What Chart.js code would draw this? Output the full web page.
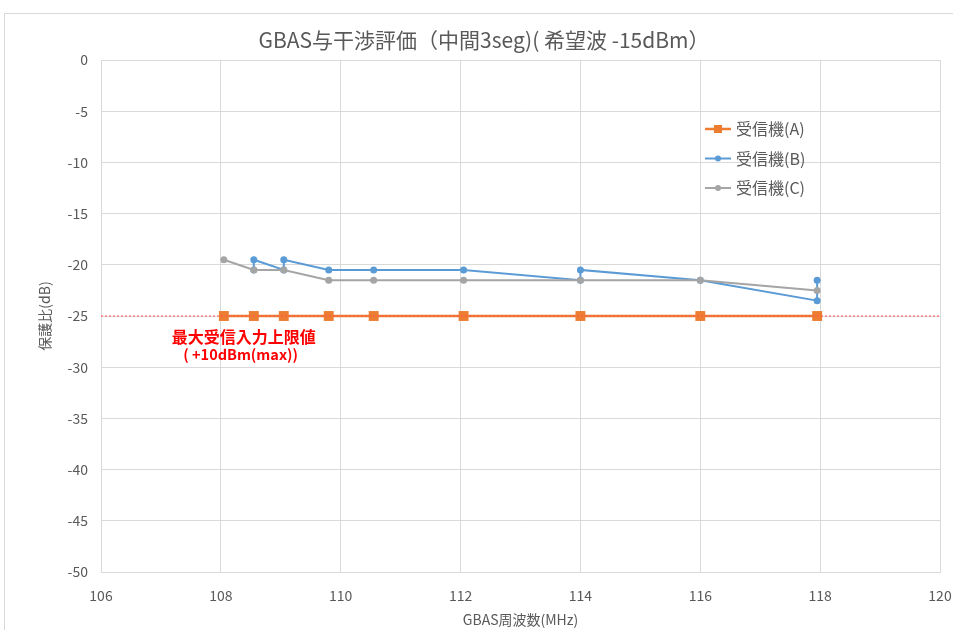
<!DOCTYPE html>
<html><head><meta charset="utf-8">
<script src="https://cdn.jsdelivr.net/npm/chart.js@4/dist/chart.umd.min.js"></script>
<style>html,body{margin:0;padding:0;background:#fff;} #wrap{width:953px;height:630px;position:relative}</style>
</head><body><div id="wrap"><canvas id="c" width="953" height="630"></canvas></div>
<script>
const chartTitle = 'GBAS与干渉評価（中間3seg)( 希望波 -15dBm）';
const xTitle = 'GBAS周波数(MHz)';
const yTitle = '保護比(dB)';
const seriesNames = ['受信機(A)', '受信機(B)', '受信機(C)'];

const freqA  = [108.05, 108.55, 109.05, 109.8, 110.55, 112.05, 114, 116, 117.95];
const ratioA = [-25, -25, -25, -25, -25, -25, -25, -25, -25];

const freqB  = [108.55, 108.55, 109.05, 109.05, 109.8, 110.55, 112.05, 114, 114, 116, 117.95, 117.95];
const ratioB = [-20.5, -19.5, -20.5, -19.5, -20.5, -20.5, -20.5, -21.5, -20.5, -21.5, -23.5, -21.5];

const freqC  = [108.05, 108.55, 109.05, 109.8, 110.55, 112.05, 114, 116, 117.95];
const ratioC = [-19.5, -20.5, -20.5, -21.5, -21.5, -21.5, -21.5, -21.5, -22.5];

const limitFreq  = [106, 120];
const limitRatio = [-25, -25];
const limitText  = ['最大受信入力上限値', '( +10dBm(max))'];
const limitTextAt = [108.38, -27.0];

const xTicks = [106, 108, 110, 112, 114, 116, 118, 120];
const yTicks = [0, -5, -10, -15, -20, -25, -30, -35, -40, -45, -50];

const colA = '#ED7D31', colB = '#5B9BD5', colC = '#A5A5A5';
const FONT = '"Noto Sans CJK JP", "Noto Sans", sans-serif';
const toPts = (xs, ys) => xs.map((x, i) => ({x: x, y: ys[i]}));

const decor = {
  id: 'decor',
  beforeDraw(chart) {
    const ctx = chart.ctx;
    ctx.save();
    ctx.fillStyle = '#fff';
    ctx.fillRect(0, 0, chart.width, chart.height);
    ctx.strokeStyle = '#d9d9d9';
    ctx.lineWidth = 1;
    ctx.strokeRect(4.5, 13.5, chart.width + 10, chart.height + 10);
    ctx.fillStyle = '#595959';
    ctx.font = '21px ' + FONT;
    ctx.textAlign = 'center';
    ctx.textBaseline = 'middle';
    ctx.fillText(chartTitle, 484, 40);
    ctx.restore();
  },
  afterDraw(chart) {
    const ctx = chart.ctx;
    const xs = chart.scales.x, ys = chart.scales.y;
    ctx.save();
    // annotation
    ctx.fillStyle = '#FF0000';
    ctx.textAlign = 'center';
    ctx.textBaseline = 'middle';
    const ax = xs.getPixelForValue(limitTextAt[0]);
    const ay = ys.getPixelForValue(limitTextAt[1]);
    ctx.font = 'bold 16px ' + FONT;
    ctx.fillText(limitText[0], ax, ay);
    ctx.font = 'bold 14.5px ' + FONT;
    ctx.fillText(limitText[1], ax - 3, ay + 18);
    // legend
    const ca = chart.chartArea;
    const lx = ca.left + 604, ly = ca.top + 69, dy = 29.5;
    const cols = [colA, colB, colC];
    ctx.font = '16px ' + FONT;
    ctx.textAlign = 'left';
    for (let i = 0; i < 3; i++) {
      const y = ly + i * dy;
      ctx.strokeStyle = cols[i];
      ctx.lineWidth = i === 0 ? 2.5 : 2;
      ctx.beginPath(); ctx.moveTo(lx, y); ctx.lineTo(lx + 26, y); ctx.stroke();
      ctx.fillStyle = cols[i];
      if (i === 0) { ctx.fillRect(lx + 9, y - 4, 8, 8); }
      else { ctx.beginPath(); ctx.arc(lx + 13, y, 3, 0, Math.PI * 2); ctx.fill(); }
      ctx.fillStyle = '#595959';
      ctx.fillText(seriesNames[i], lx + 31, y);
    }
    ctx.restore();
  }
};

new Chart(document.getElementById('c'), {
  type: 'scatter',
  data: {
    datasets: [
      { label: 'limit', data: toPts(limitFreq, limitRatio), showLine: true, borderColor: '#FF5050',
        borderWidth: 1, borderDash: [2, 2], pointRadius: 0, order: 0 },
      { label: seriesNames[0], data: toPts(freqA, ratioA), showLine: true, borderColor: colA, backgroundColor: colA,
        borderWidth: 2.5, pointStyle: 'rect', pointRadius: 7, pointBorderWidth: 0, order: 3 },
      { label: seriesNames[1], data: toPts(freqB, ratioB), showLine: true, borderColor: colB, backgroundColor: colB,
        borderWidth: 2, pointStyle: 'circle', pointRadius: 3.5, pointBorderWidth: 0, order: 2 },
      { label: seriesNames[2], data: toPts(freqC, ratioC), showLine: true, borderColor: colC, backgroundColor: colC,
        borderWidth: 2, pointStyle: 'circle', pointRadius: 3.5, pointBorderWidth: 0, order: 1 }
    ]
  },
  options: {
    responsive: false,
    animation: false,
    layout: { padding: { left: 0, right: 0, top: 60, bottom: 0 } },
    plugins: { legend: { display: false }, tooltip: { enabled: false }, title: { display: false } },
    scales: {
      x: {
        type: 'linear', min: 106, max: 120,
        afterBuildTicks: s => { s.ticks = xTicks.map(v => ({value: v})); },
        afterFit: s => { s.height = 58; s.paddingRight = 13; },
        grid: { color: '#d9d9d9', drawTicks: false },
        border: { color: '#d9d9d9' },
        ticks: { color: '#595959', font: { family: FONT, size: 14 }, padding: 15 },
        title: { display: true, text: xTitle, color: '#595959', font: { family: FONT, size: 14 }, padding: { top: 0, bottom: 2 } }
      },
      y: {
        type: 'linear', min: -50, max: 0,
        afterBuildTicks: s => { s.ticks = yTicks.map(v => ({value: v})); },
        afterFit: s => { s.width = 101; },
        grid: { color: '#d9d9d9', drawTicks: false },
        border: { display: false },
        ticks: { color: '#595959', font: { family: FONT, size: 14 }, padding: 13 },
        title: { display: true, text: yTitle, color: '#595959', font: { family: FONT, size: 14 }, padding: { top: 36, bottom: 0 } }
      }
    }
  },
  plugins: [decor]
});
</script>
</body></html>
